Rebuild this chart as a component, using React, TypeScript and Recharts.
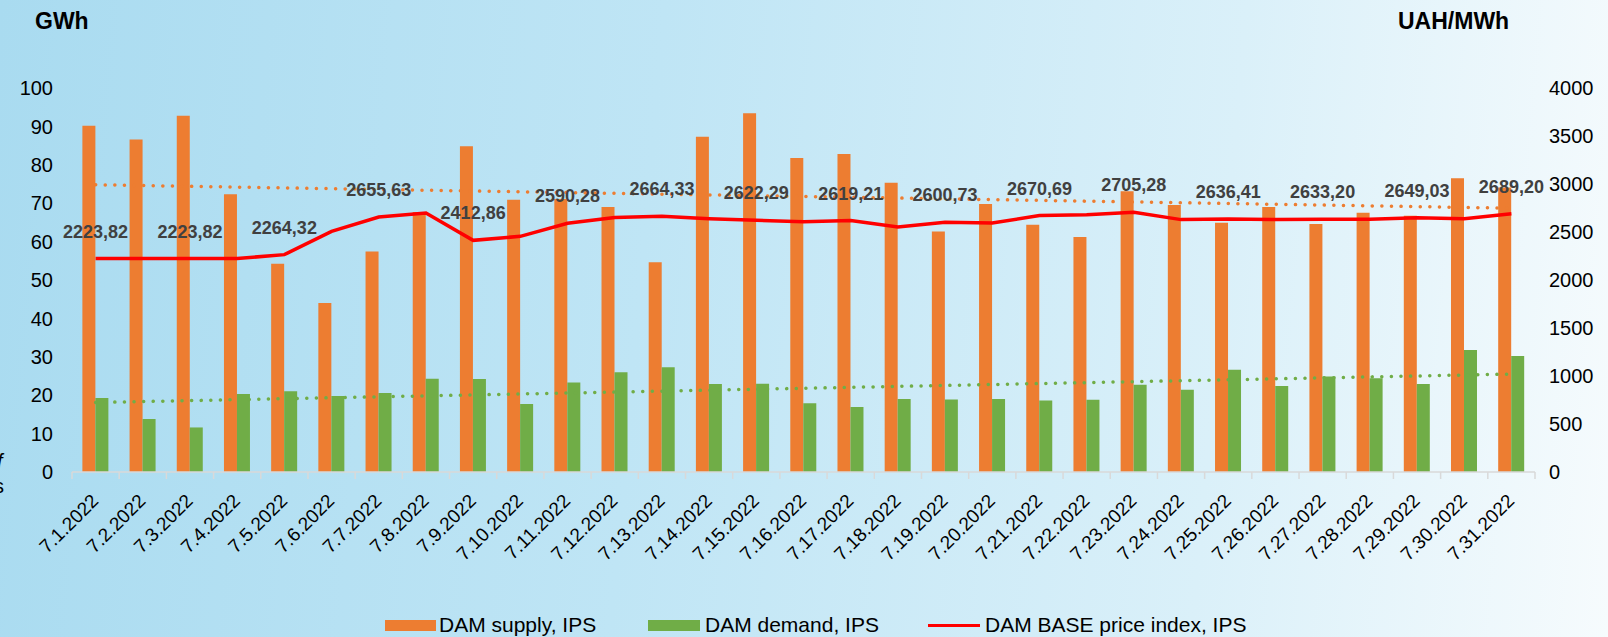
import React from 'react'
import {
  ComposedChart, Bar, Line, XAxis, YAxis, LabelList
} from 'recharts'

const days = [
  '7.1.2022', '7.2.2022', '7.3.2022', '7.4.2022', '7.5.2022', '7.6.2022', '7.7.2022', '7.8.2022',
  '7.9.2022', '7.10.2022', '7.11.2022', '7.12.2022', '7.13.2022', '7.14.2022', '7.15.2022', '7.16.2022',
  '7.17.2022', '7.18.2022', '7.19.2022', '7.20.2022', '7.21.2022', '7.22.2022', '7.23.2022', '7.24.2022',
  '7.25.2022', '7.26.2022', '7.27.2022', '7.28.2022', '7.29.2022', '7.30.2022', '7.31.2022',
]

// GWh
const supply = [
  90.2, 86.6, 92.8, 72.3, 54.2, 44.0, 57.4, 67.7, 84.8, 70.9, 71.1, 69.0, 54.6, 87.3, 93.4, 81.8,
  82.8, 75.3, 62.6, 69.8, 64.4, 61.2, 73.1, 69.5, 64.9, 69.0, 64.6, 67.5, 66.7, 76.5, 74.1,
]
const demand = [
  19.3, 13.8, 11.6, 20.3, 21.0, 19.8, 20.6, 24.3, 24.2, 17.7, 23.3, 26.0, 27.3, 22.9, 23.0, 17.9,
  16.9, 19.0, 18.9, 19.0, 18.6, 18.8, 22.7, 21.4, 26.6, 22.4, 24.9, 24.4, 22.9, 31.8, 30.2,
]

// UAH/MWh
const price = [
  2223.82, 2223.82, 2223.82, 2223.82, 2264.32, 2507, 2655.63, 2698, 2412.86, 2455, 2590.28, 2650,
  2664.33, 2639, 2622.29, 2608, 2619.21, 2552, 2600.73, 2594, 2670.69, 2680, 2705.28, 2629,
  2636.41, 2629, 2633.2, 2632, 2649.03, 2639, 2689.2,
]

// linear trend lines, first and last day (GWh)
const supplyTrend = [74.8, 68.7]
const demandTrend = [18.1, 25.5]

const leftTicks = [0, 10, 20, 30, 40, 50, 60, 70, 80, 90, 100]
const rightTicks = [0, 500, 1000, 1500, 2000, 2500, 3000, 3500, 4000]

const last = days.length - 1
const data = days.map((day, i) => ({
  day,
  supply: supply[i],
  demand: demand[i],
  price: price[i],
  priceLabel: i % 2 === 0 ? price[i] : null,
  supplyTrend: i === 0 ? supplyTrend[0] : i === last ? supplyTrend[1] : null,
  demandTrend: i === 0 ? demandTrend[0] : i === last ? demandTrend[1] : null,
}))

const FONT = '"Liberation Sans", Arial, sans-serif'

function PriceLabel(props: any) {
  const { x, y, value } = props
  if (value == null) return null
  return (
    <text x={x} y={y - 21} textAnchor="middle" fill="#404040" fontSize={18} fontWeight="bold" fontFamily={FONT}>
      {Number(value).toFixed(2).replace('.', ',')}
    </text>
  )
}

function DayTick(props: any) {
  const { x, y, payload, index } = props
  const half = payload.offset || 23.6
  const tx = x + 4
  const ty = y + 22
  return (
    <g>
      <line x1={x - half} x2={x - half} y1={y - 8} y2={y - 1} stroke="#d9d9d9" strokeWidth={1.5} />
      {index === last && (
        <line x1={x + half} x2={x + half} y1={y - 8} y2={y - 1} stroke="#d9d9d9" strokeWidth={1.5} />
      )}
      <text x={tx} y={ty} textAnchor="end" transform={`rotate(-45 ${tx} ${ty})`} fill="#000" fontSize={19} fontFamily={FONT}>
        {payload.value}
      </text>
    </g>
  )
}

export default function App() {
  return (
    <div
      style={{
        position: 'absolute', top: 0, left: 0, width: 1608, height: 637, overflow: 'hidden',
        background: 'linear-gradient(95deg, #a9dbf0 0%, #bfe5f5 40%, #daf0f9 75%, #f6fbfd 100%)',
        fontFamily: FONT,
      }}
    >
      <div style={{ position: 'absolute', left: 35, top: 8, fontSize: 23, fontWeight: 'bold', color: '#000' }}>GWh</div>
      <div style={{ position: 'absolute', left: 1398, top: 8, fontSize: 23, fontWeight: 'bold', color: '#000' }}>UAH/MWh</div>
      <div style={{ position: 'absolute', left: -3, top: 450, fontSize: 20, fontStyle: 'italic', color: '#000' }}>f</div>
      <div style={{ position: 'absolute', left: -6, top: 475, fontSize: 20, color: '#000' }}>s</div>

      <ComposedChart
        width={1608}
        height={637}
        data={data}
        margin={{ top: 88, right: 0, left: 0, bottom: 0 }}
        barCategoryGap="22%"
        barGap={0}
      >
        <XAxis
          dataKey="day"
          interval={0}
          height={165}
          tickSize={0}
          tickMargin={8}
          tickLine={false}
          axisLine={{ stroke: '#d9d9d9', strokeWidth: 1.5 }}
          tick={<DayTick />}
        />
        <YAxis
          yAxisId="gwh"
          orientation="left"
          width={72}
          domain={[0, 100]}
          ticks={leftTicks}
          interval={0}
          axisLine={false}
          tickLine={false}
          tickSize={0}
          tickMargin={19}
          tick={{ fill: '#000', fontSize: 20, fontFamily: FONT }}
        />
        <YAxis
          yAxisId="uah"
          orientation="right"
          width={73}
          domain={[0, 4000]}
          ticks={rightTicks}
          interval={0}
          axisLine={false}
          tickLine={false}
          tickSize={0}
          tickMargin={14}
          tick={{ fill: '#000', fontSize: 20, fontFamily: FONT, textAnchor: 'start' }}
        />
        <Bar yAxisId="gwh" dataKey="supply" fill="#ed7d31" isAnimationActive={false} />
        <Bar yAxisId="gwh" dataKey="demand" fill="#70ad47" isAnimationActive={false} />
        <Line
          yAxisId="gwh" dataKey="supplyTrend" stroke="#ed7d31" strokeWidth={3.5} strokeLinecap="round"
          strokeDasharray="0.1 9.5" connectNulls dot={false} activeDot={false} isAnimationActive={false}
        />
        <Line
          yAxisId="gwh" dataKey="demandTrend" stroke="#70ad47" strokeWidth={3.5} strokeLinecap="round"
          strokeDasharray="0.1 9.5" connectNulls dot={false} activeDot={false} isAnimationActive={false}
        />
        <Line
          yAxisId="uah" dataKey="price" type="linear" stroke="#ff0000" strokeWidth={3.5}
          dot={false} activeDot={false} isAnimationActive={false}
        >
          <LabelList dataKey="priceLabel" content={<PriceLabel />} />
        </Line>
      </ComposedChart>

      <div style={{ position: 'absolute', top: 0, left: 0, fontSize: 21, color: '#000' }}>
        <div style={{ position: 'absolute', left: 385, top: 620, width: 51, height: 11, background: '#ed7d31' }} />
        <div style={{ position: 'absolute', left: 439, top: 613, whiteSpace: 'nowrap' }}>DAM supply, IPS</div>
        <div style={{ position: 'absolute', left: 648, top: 620, width: 52, height: 11, background: '#70ad47' }} />
        <div style={{ position: 'absolute', left: 705, top: 613, whiteSpace: 'nowrap' }}>DAM demand, IPS</div>
        <div style={{ position: 'absolute', left: 928, top: 624, width: 52, height: 3, background: '#ff0000' }} />
        <div style={{ position: 'absolute', left: 985, top: 613, whiteSpace: 'nowrap' }}>DAM BASE price index, IPS</div>
      </div>
    </div>
  )
}
